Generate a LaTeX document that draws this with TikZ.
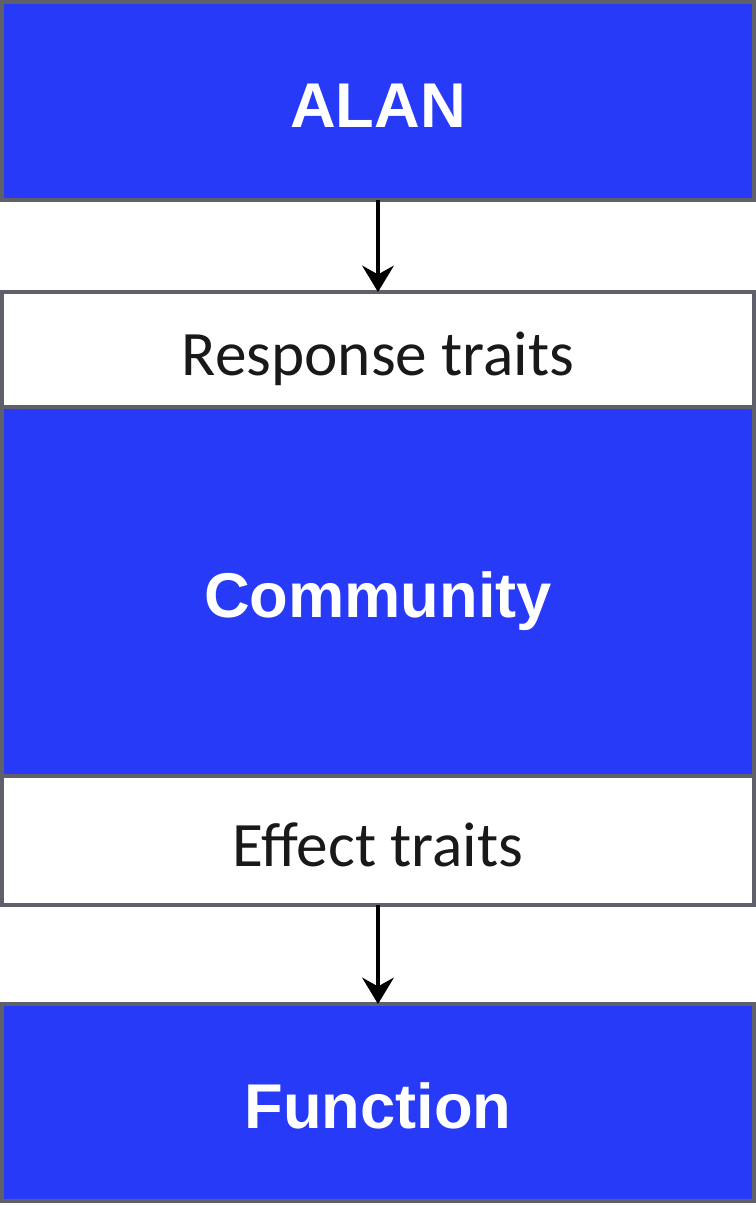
\documentclass[tikz,border=0pt]{standalone}
\usepackage{fontspec}
\setmainfont{Carlito}
\newfontfamily\headfont{Liberation Sans}
\usetikzlibrary{arrows.meta, positioning}

\definecolor{boxblue}{RGB}{38,58,248}
\definecolor{boxline}{RGB}{96,96,106}

\begin{document}
\begin{tikzpicture}[>={Stealth[length=15pt,width=18pt,inset=5pt]},
  every node/.style={draw=boxline, line width=0.08cm, outer sep=0pt,
    minimum width=15.04cm, inner sep=0pt, text height=32pt, text depth=2pt},
  bluebox/.style={fill=boxblue, text=white,
    font=\headfont\bfseries\fontsize{36}{40}\selectfont},
  traitbox/.style={fill=white, text=black!90,
    font=\fontsize{36}{40}\selectfont}
 ]
 \useasboundingbox (0,0) rectangle (15.12,-24.12);
 \node [bluebox, minimum height=3.96cm, below=0.04cm of {7.56,0}] (A) {ALAN};
 \node [traitbox, minimum height=2.30cm, below=1.84cm of A] (R) {Response traits};
 \node [bluebox, minimum height=7.38cm, below=0cm of R] (C) {Community};
 \node [traitbox, minimum height=2.58cm, below=0cm of C] (E) {Effect traits};
 \node [bluebox, minimum height=3.94cm, below=1.98cm of E] (F) {Function};

 \draw [->, line width=1.8pt] (A) -- (R);
 \draw [->, line width=1.8pt] (E) -- (F);
\end{tikzpicture}
\end{document}
